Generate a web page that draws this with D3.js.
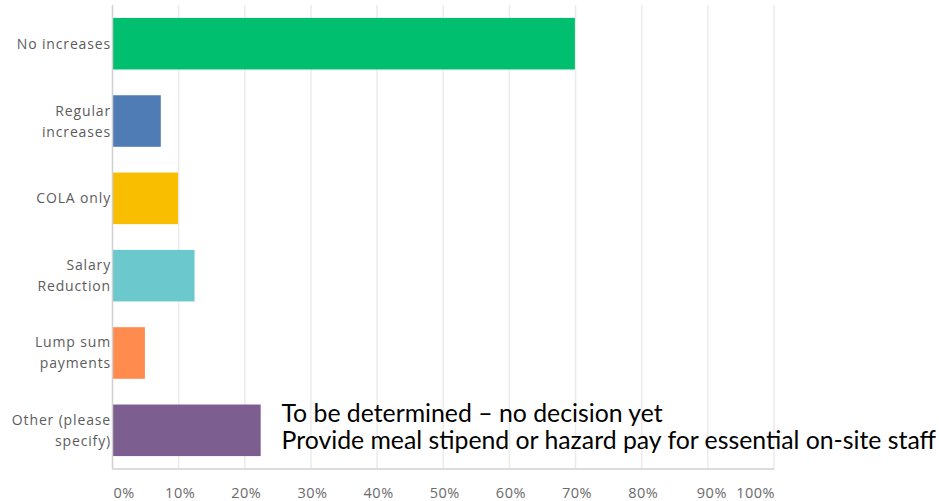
<!DOCTYPE html>
<html>
<head>
<meta charset="utf-8">
<script src="https://cdn.jsdelivr.net/npm/d3@7"></script>
<style>
  html, body { margin: 0; padding: 0; background: #fff; }
  svg { display: block; }
</style>
</head>
<body>
<svg id="chart" width="939" height="501"></svg>
<script>
// Survey responses: share of respondents per answer choice (%)
const categories = [
  ["No increases"],
  ["Regular", "increases"],
  ["COLA only"],
  ["Salary", "Reduction"],
  ["Lump sum", "payments"],
  ["Other (please", "specify)"]
];
const values = [69.9, 7.3, 9.9, 12.4, 4.9, 22.4];
const barColors = ["#00bf6f", "#507cb6", "#f9be00", "#6bc8cd", "#ff8b4f", "#7d5e90"];
const tickValues = [0, 10, 20, 30, 40, 50, 60, 70, 80, 90, 100];
const tickLabels = ["0%", "10%", "20%", "30%", "40%", "50%", "60%", "70%", "80%", "90%", "100%"];
const otherResponses = [
  "To be determined \u2013 no decision yet",
  "Provide meal stipend or hazard pay for essential on-site staff"
];

const svg = d3.select("#chart");
const plot = { left: 112.5, right: 774, top: 5, bottom: 469 };

const x = d3.scaleLinear().domain([0, 100]).range([plot.left, plot.right]);
const y = d3.scaleBand()
  .domain(d3.range(categories.length))
  .range([plot.top, plot.bottom])
  .paddingInner(0.333)
  .paddingOuter(0.167);

// vertical gridlines
svg.append("g")
  .selectAll("line")
  .data(tickValues.slice(1))
  .join("line")
  .attr("x1", d => x(d)).attr("x2", d => x(d))
  .attr("y1", plot.top).attr("y2", plot.bottom)
  .attr("stroke", "#ebebeb")
  .attr("stroke-width", 1.5);

// bars
svg.append("g")
  .selectAll("rect")
  .data(values)
  .join("rect")
  .attr("x", x(0))
  .attr("y", (d, i) => y(i))
  .attr("width", d => x(d) - x(0))
  .attr("height", y.bandwidth())
  .attr("fill", (d, i) => barColors[i]);

// axis lines
svg.append("line")
  .attr("x1", plot.left).attr("x2", plot.left)
  .attr("y1", plot.top).attr("y2", plot.bottom)
  .attr("stroke", "#d0d0d0").attr("stroke-width", 1.5);
svg.append("line")
  .attr("x1", plot.left).attr("x2", plot.right)
  .attr("y1", plot.bottom).attr("y2", plot.bottom)
  .attr("stroke", "#d0d0d0").attr("stroke-width", 1.5);

// x tick labels
svg.append("g")
  .selectAll("text")
  .data(tickValues)
  .join("text")
  .attr("x", (d, i) => i === 0 ? x(d) + 1 : i === tickValues.length - 1 ? x(d) + 1 : i === 9 ? x(d) + 4 : x(d) + 1.5)
  .attr("y", 498)
  .attr("text-anchor", (d, i) => i === 0 ? "start" : i === tickValues.length - 1 ? "end" : "middle")
  .attr("font-family", "'Open Sans', sans-serif")
  .attr("font-size", 14.5)
  .attr("letter-spacing", 0.5)
  .attr("fill", "#6a6a6a")
  .text((d, i) => tickLabels[i]);

// category labels
const catG = svg.append("g");
categories.forEach((lines, i) => {
  const cy = y(i) + y.bandwidth() / 2;
  const lh = 21;
  const t = catG.append("text")
    .attr("text-anchor", "end")
    .attr("font-family", "'Open Sans', sans-serif")
    .attr("font-size", 14)
    .attr("letter-spacing", 0.85)
    .attr("fill", "#5c5c5c");
  lines.forEach((ln, j) => {
    t.append("tspan")
      .attr("x", 111)
      .attr("y", cy + (j - (lines.length - 1) / 2) * lh + 5)
      .text(ln);
  });
});

// written-in responses for "Other"
const note = svg.append("g");
const noteX = 281.5;
const noteLines = note.selectAll("text")
  .data(otherResponses)
  .join("text")
  .attr("x", noteX)
  .attr("y", (d, i) => 421.5 + i * 27)
  .attr("font-family", "Lato, 'Open Sans', sans-serif")
  .attr("font-size", 23)
  .attr("fill", "#000")
  .text(d => d);
// size the text so the longer line spans to the right edge
const longest = d3.max(noteLines.nodes(), n => n.getComputedTextLength());
noteLines.attr("font-size", 23 * 655 / longest);
</script>
</body>
</html>
